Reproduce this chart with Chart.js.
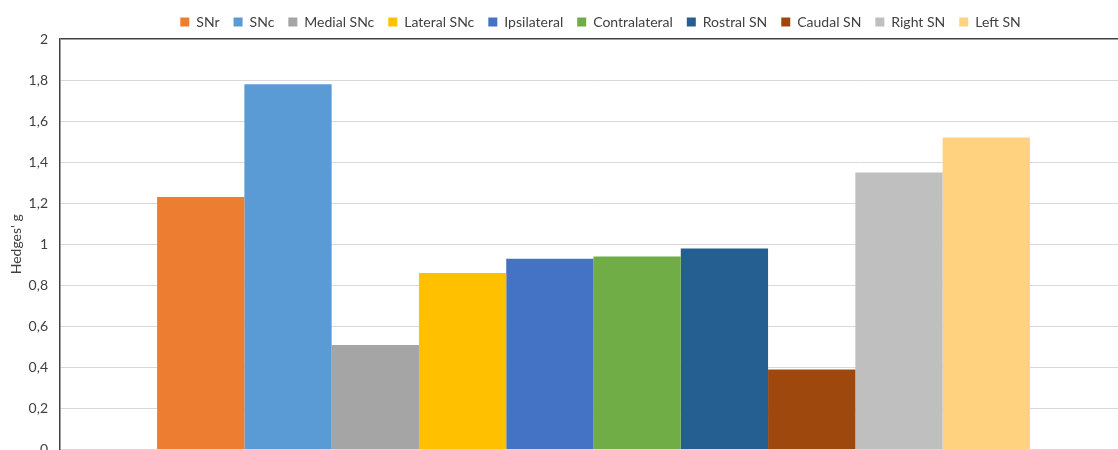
<!DOCTYPE html>
<html>
<head>
<meta charset="utf-8">
<script src="https://cdn.jsdelivr.net/npm/chart.js@4/dist/chart.umd.min.js"></script>
<style>
  html, body { margin: 0; padding: 0; background: #fff; overflow: hidden; }
  #wrap { width: 1200px; height: 470px; position: relative; }
</style>
</head>
<body>
<div id="wrap"><canvas id="chart"></canvas></div>
<script>
// series names, one bar each
const seriesNames = ['SNr', 'SNc', 'Medial SNc', 'Lateral SNc', 'Ipsilateral', 'Contralateral', 'Rostral SN', 'Caudal SN', 'Right SN', 'Left SN'];
// Hedges' g
const hedgesG = [1.23, 1.78, 0.51, 0.86, 0.93, 0.94, 0.98, 0.39, 1.35, 1.52];
const barColors = ['#ED7D31', '#5B9BD5', '#A5A5A5', '#FFC000', '#4472C4', '#70AD47', '#255E91', '#9E480E', '#BFBFBF', '#FFD27F'];
const yTicks = [0, 0.2, 0.4, 0.6, 0.8, 1, 1.2, 1.4, 1.6, 1.8, 2];

const fontFamily = 'Lato, "Open Sans", sans-serif';
const textColor = '#404040';

const datasets = seriesNames.map((name, i) => ({
    label: name,
    data: [hedgesG[i]],
    backgroundColor: barColors[i],
    borderWidth: 0,
    categoryPercentage: 0.818,
    barPercentage: 1.0
}));

// legend sits a bit right of the plot centre in the original
const shiftLegend = {
    id: 'shiftLegend',
    afterLayout(chart) {
        chart.legend.left += 35;
        chart.legend.right += 35;
    }
};

const ctx = document.getElementById('chart').getContext('2d');
const chart = new Chart(ctx, {
    type: 'bar',
    data: {
        labels: [''],
        datasets: datasets
    },
    plugins: [shiftLegend],
    options: {
        responsive: true,
        maintainAspectRatio: false,
        animation: false,
        layout: {
            padding: { left: 4, right: 73, top: 1, bottom: 18 }
        },
        plugins: {
            legend: {
                position: 'top',
                labels: {
                    boxWidth: 9,
                    boxHeight: 9,
                    padding: 14,
                    color: textColor,
                    font: { family: fontFamily, size: 14 }
                }
            },
            tooltip: { enabled: false }
        },
        scales: {
            x: {
                display: false
            },
            y: {
                min: 0,
                max: 2,
                afterBuildTicks: (scale) => {
                    scale.ticks = yTicks.map(v => ({ value: v }));
                },
                afterFit: (scale) => {
                    scale.width = 56;
                },
                ticks: {
                    padding: 12,
                    color: textColor,
                    font: { family: fontFamily, size: 14 },
                    callback: (value) => String(Math.round(value * 10) / 10).replace('.', ',')
                },
                grid: {
                    drawTicks: false,
                    color: (c) => (c.tick && c.tick.value === 2 ? '#404040' : '#D9D9D9'),
                    lineWidth: (c) => (c.tick && c.tick.value === 2 ? 1.5 : 1)
                },
                border: {
                    display: true,
                    color: '#404040',
                    width: 1.5
                },
                title: {
                    display: true,
                    text: "Hedges' g",
                    color: textColor,
                    font: { family: fontFamily, size: 14 },
                    padding: { top: 4, bottom: 2 }
                }
            }
        }
    }
});
</script>
</body>
</html>
